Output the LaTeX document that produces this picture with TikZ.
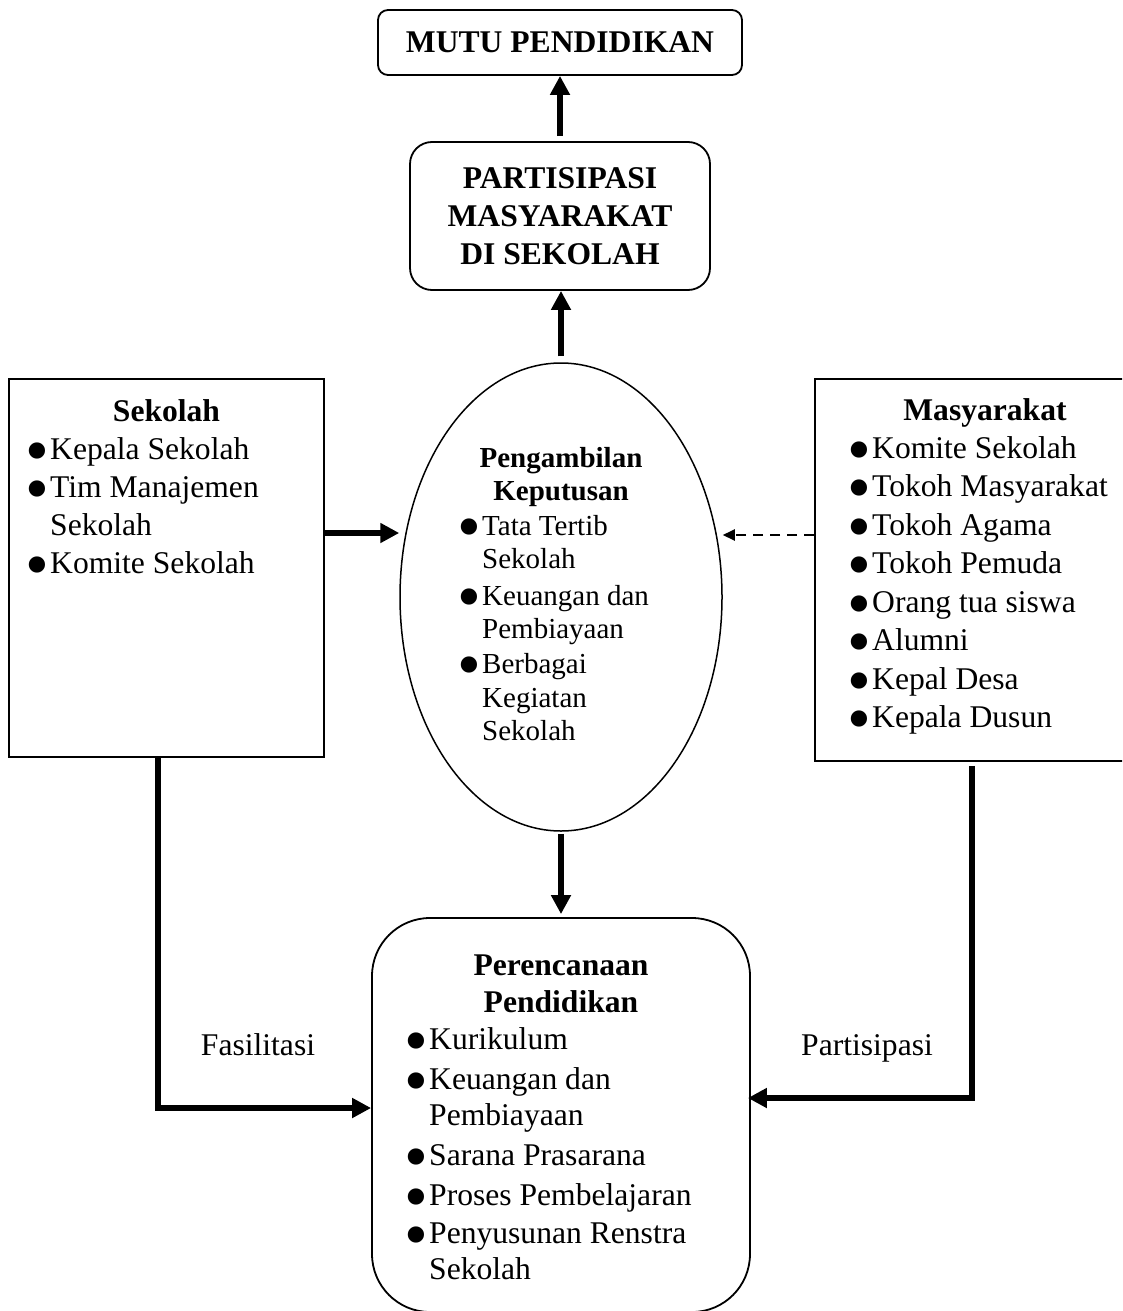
\documentclass[tikz,border=0pt]{standalone}
\usepackage{fontspec}
\setmainfont{Liberation Serif}
\usetikzlibrary{arrows.meta,shapes.geometric}
\newcommand{\fsA}{\fontsize{31.6pt}{38pt}\selectfont}
\newcommand{\fsB}{\fontsize{29pt}{33pt}\selectfont}
\newcommand{\bul}{\llap{\raisebox{-14pt}[0pt][0pt]{\fontsize{68pt}{68pt}\selectfont •}\hspace{0.5pt}}}
\tikzset{
  box/.style={draw, line width=1.8pt, inner sep=0pt},
  ln/.style={font=\fsA, inner sep=0pt, anchor=base west},
  lnB/.style={font=\fsB, inner sep=0pt, anchor=base west},
  hd/.style={font=\fsA\bfseries, inner sep=0pt, anchor=base},
  hdB/.style={font=\fsB\bfseries, inner sep=0pt, anchor=base},
  bigarrow/.style={line width=6.5pt, -{Triangle[length=19pt,width=19pt]}},
  dasharrow/.style={line width=2pt, dash pattern=on 10pt off 7pt, -{Triangle[length=12pt,width=11pt]}},
}
\begin{document}
\begin{tikzpicture}[x=1pt,y=-1pt]
\useasboundingbox (0,0) rectangle (1122,1311);
\clip (0,0) rectangle (1122,1311);

% main shapes
\node[box, rounded corners=10pt, minimum width=364pt, minimum height=65pt, font=\fsA\bfseries] (mutu) at (560,42.5) {MUTU PENDIDIKAN};
\node[box, rounded corners=22pt, minimum width=300pt, minimum height=148pt, font=\fsA\bfseries, align=center] (parti) at (560,216) {PARTISIPASI\\MASYARAKAT\\DI SEKOLAH};
\node[box, ellipse, line width=1.5pt, minimum width=322pt, minimum height=468pt] (ell) at (561,597) {};
\node[box, minimum width=315pt, minimum height=378pt] (sek) at (166.5,568) {};
\node[box, minimum width=340pt, minimum height=382pt] (mas) at (985,570) {};
\node[box, rounded corners=58pt, minimum width=378pt, minimum height=394pt] (per) at (561,1115) {};

% Sekolah texts
\node[hd] (sekH) at (166.5,421) {Sekolah};
\node[ln] (sek1) at (50,459) {\bul Kepala Sekolah};
\node[ln] (sek2) at (50,497) {\bul Tim Manajemen};
\node[ln] (sek3) at (50,535) {Sekolah};
\node[ln] (sek4) at (50,573) {\bul Komite Sekolah};

% Masyarakat texts
\node[hd] (masH) at (985,420) {Masyarakat};
\node[ln] (mas1) at (872,458) {\bul Komite Sekolah};
\node[ln] (mas2) at (872,496.5) {\bul Tokoh Masyarakat};
\node[ln] (mas3) at (872,535) {\bul Tokoh Agama};
\node[ln] (mas4) at (872,573.5) {\bul Tokoh Pemuda};
\node[ln] (mas5) at (872,612) {\bul Orang tua siswa};
\node[ln] (mas6) at (872,650.5) {\bul Alumni};
\node[ln] (mas7) at (872,689) {\bul Kepal Desa};
\node[ln] (mas8) at (872,727.5) {\bul Kepala Dusun};

% Ellipse texts
\node[hdB] (ellH1) at (561,467) {Pengambilan};
\node[hdB] (ellH2) at (561,500) {Keputusan};
\node[lnB] (ell1) at (482,535) {\bul Tata Tertib};
\node[lnB] (ell2) at (482,568) {Sekolah};
\node[lnB] (ell3) at (482,605) {\bul Keuangan dan};
\node[lnB] (ell4) at (482,638) {Pembiayaan};
\node[lnB] (ell5) at (482,673) {\bul Berbagai};
\node[lnB] (ell6) at (482,707) {Kegiatan};
\node[lnB] (ell7) at (482,740) {Sekolah};

% Perencanaan texts
\node[hd] (perH1) at (561,975) {Perencanaan};
\node[hd] (perH2) at (561,1012) {Pendidikan};
\node[ln] (per1) at (429,1049) {\bul Kurikulum};
\node[ln] (per2) at (429,1089) {\bul Keuangan dan};
\node[ln] (per3) at (429,1125) {Pembiayaan};
\node[ln] (per4) at (429,1165) {\bul Sarana Prasarana};
\node[ln] (per5) at (429,1205) {\bul Proses Pembelajaran};
\node[ln] (per6) at (429,1243) {\bul Penyusunan Renstra};
\node[ln] (per7) at (429,1279) {Sekolah};

% labels
\node[font=\fsA, inner sep=0pt, anchor=base] (fas) at (258,1055) {Fasilitasi};
\node[font=\fsA, inner sep=0pt, anchor=base] (par) at (867,1055) {Partisipasi};

% helper coordinates
\coordinate (ya) at (0,533);
\coordinate (yb) at (0,535);
\coordinate (fl) at (158,1108);
\coordinate (pr) at (972,1098);

% connectors
\draw[bigarrow, shorten <=5pt] (parti.north) -- (mutu.south);
\draw[bigarrow, shorten <=6pt] (ell.north) -- (ell.north |- parti.south);
\draw[bigarrow] (sek.east |- ya) -- (ell.west |- ya);
\draw[dasharrow] (mas.west |- yb) -- (ell.east |- yb);
\draw[bigarrow, shorten <=2pt, shorten >=3pt] (ell.south) -- (ell.south |- per.north);
\draw[bigarrow] (sek.south -| fl) |- (per.west |- fl);
\draw[bigarrow, shorten <=4pt, shorten >=-3pt] (mas.south -| pr) |- (per.east |- pr);
\end{tikzpicture}
\end{document}
